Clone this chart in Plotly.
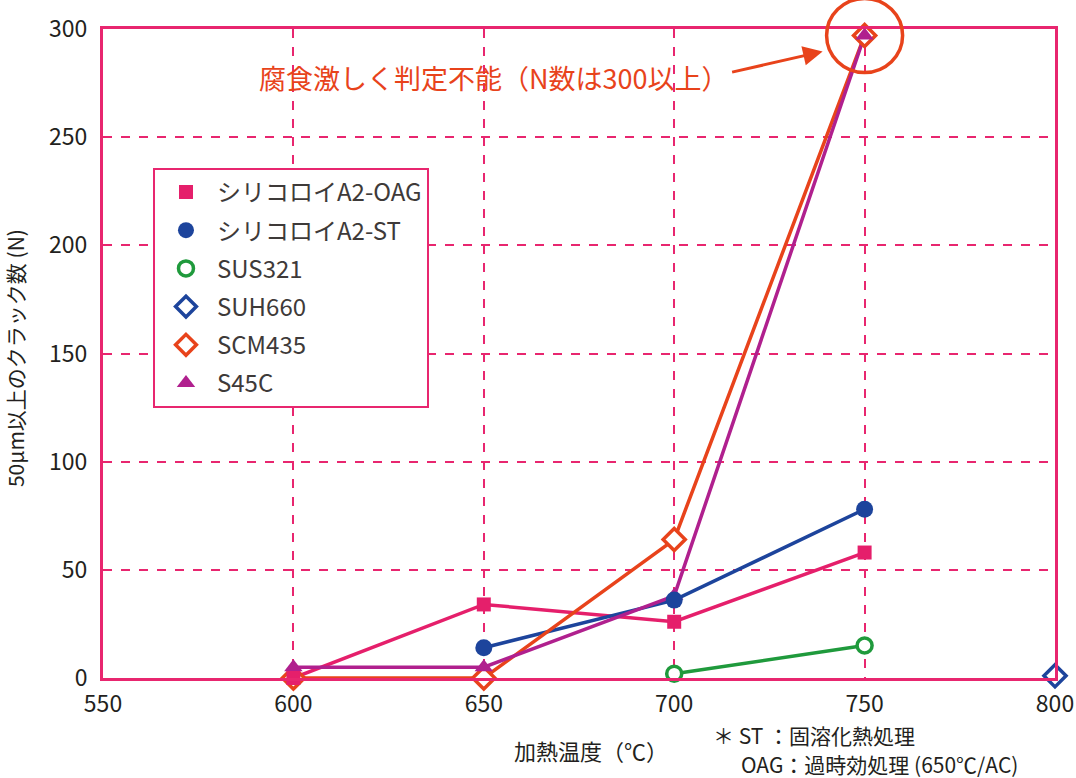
import plotly.graph_objects as go

# 加熱温度 (℃) と 50μm以上のクラック数 (N)
temp_oag = [600, 650, 700, 750]
cracks_oag = [0, 34, 26, 58]
temp_st = [650, 700, 750]
cracks_st = [14, 36, 78]
temp_sus321 = [700, 750]
cracks_sus321 = [2, 15]
temp_suh660 = [800]
cracks_suh660 = [1]
temp_scm435 = [600, 650, 700, 750]
cracks_scm435 = [0, 0, 64, 297]
temp_s45c = [600, 650, 700, 750]
cracks_s45c = [5, 5, 38, 297]

x_ticks = [550, 600, 650, 700, 750, 800]
y_ticks = [0, 50, 100, 150, 200, 250, 300]

PINK = "#e8266f"
JP = "Noto Sans CJK JP"

W, H = 1076, 778
ML, MR, MT, MB = 103, 21, 29, 100
PW, PH = W - ML - MR, H - MT - MB
XR, YR = [550, 800], [0, 300]

series = [
    # name, x, y, symbol, fill, line colour, size, marker line width
    ("シリコロイA2-OAG", temp_oag, cracks_oag, "square", "#e51f6b", "#e51f6b", 14, 0),
    ("シリコロイA2-ST", temp_st, cracks_st, "circle", "#1d449c", "#1d449c", 17, 0),
    ("SUS321", temp_sus321, cracks_sus321, "circle", "white", "#1f9a3c", 15, 3.5),
    ("SUH660", temp_suh660, cracks_suh660, "diamond", "white", "#1d449c", 17, 3.5),
    ("SCM435", temp_scm435, cracks_scm435, "diamond", "white", "#e8431b", 17, 3.5),
    ("S45C", temp_s45c, cracks_s45c, "triangle-up", "#b0208e", "#b0208e", 16, 0),
]

fig = go.Figure()

# legend entries (markers only)
for name, xs, ys, sym, fill, col, size, lw in series:
    fig.add_trace(go.Scatter(
        x=[None], y=[None], mode="markers", name=name, legendgroup=name,
        marker=dict(symbol=sym, size=size, color=fill, line=dict(color=col, width=lw)),
    ))

# lines
for name, xs, ys, sym, fill, col, size, lw in series:
    fig.add_trace(go.Scatter(
        x=xs, y=ys, mode="lines", showlegend=False, legendgroup=name,
        line=dict(color=col, width=3.5), cliponaxis=False, hoverinfo="skip",
    ))

# markers, drawn in the stacking order of the original
for idx in [4, 3, 2, 5, 1, 0]:
    name, xs, ys, sym, fill, col, size, lw = series[idx]
    fig.add_trace(go.Scatter(
        x=xs, y=ys, mode="markers", showlegend=False, legendgroup=name, name=name,
        marker=dict(symbol=sym, size=size, color=fill, line=dict(color=col, width=lw)),
        cliponaxis=False,
    ))


def to_paper(xv, yv):
    return ((xv - XR[0]) / (XR[1] - XR[0]), (yv - YR[0]) / (YR[1] - YR[0]))


def px(dx, dy):
    # pixel offsets -> paper units
    return dx / PW, dy / PH


# circle round the 750℃ points
cx, cy = to_paper(750, 297)
rx, ry = px(38, 37)
fig.add_shape(type="circle", xref="paper", yref="paper",
              x0=cx - rx, x1=cx + rx, y0=cy - ry, y1=cy + ry,
              line=dict(color="#e8431b", width=3.5))

fig.add_annotation(
    text="腐食激しく判定不能（N数は300以上）", xref="paper", yref="paper",
    x=0.41, y=0.926, xanchor="center", yanchor="middle", showarrow=False,
    font=dict(family=JP, size=27, color="#e8431b"),
)
fig.add_annotation(
    text="", xref="paper", yref="paper", x=cx - rx - 4 / PW, y=cy - 16 / PH,
    ax=-92, ay=21, showarrow=True, arrowhead=2, arrowsize=1.3, arrowwidth=3,
    arrowcolor="#e8431b", standoff=0,
)

fig.add_annotation(
    text="加熱温度（℃）", xref="paper", yref="paper", x=0.5126, y=-0.111,
    xanchor="center", yanchor="middle", showarrow=False,
    font=dict(family=JP, size=22, color="#231f20"),
)
fig.add_annotation(
    text="50μm以上のクラック数 (N)", xref="paper", yref="paper", x=-0.0924, y=0.493,
    xanchor="center", yanchor="middle", textangle=-90, borderpad=0, showarrow=False,
    font=dict(family=JP, size=21, color="#231f20"),
)
note_font = dict(family=JP, size=21, color="#231f20")
fig.add_annotation(
    text="＊ ST ：固溶化熱処理", xref="paper", yref="paper", x=0.6397, y=-0.0878,
    xanchor="left", yanchor="middle", borderpad=0, showarrow=False, font=note_font,
)
fig.add_annotation(
    text="OAG：過時効処理 (650℃/AC)", xref="paper", yref="paper", x=0.669, y=-0.1325,
    xanchor="left", yanchor="middle", borderpad=0, showarrow=False, font=note_font,
)

fig.update_xaxes(
    range=XR, tickvals=x_ticks, showgrid=True, gridcolor=PINK, gridwidth=2,
    griddash="dash", zeroline=False, showline=True, linecolor=PINK, linewidth=3,
    mirror=True, ticks="", ticklabelstandoff=3, automargin=False,
    tickfont=dict(family=JP, size=23, color="#231f20"),
)
fig.update_yaxes(
    range=YR, tickvals=y_ticks, showgrid=True, gridcolor=PINK, gridwidth=2,
    griddash="dash", zeroline=False, showline=True, linecolor=PINK, linewidth=3,
    mirror=True, ticks="inside", ticklen=9, tickwidth=2, tickcolor=PINK,
    ticklabelstandoff=8, automargin=False,
    tickfont=dict(family=JP, size=23, color="#231f20"),
)

fig.update_layout(
    width=W, height=H,
    margin=dict(l=ML, r=MR, t=MT, b=MB),
    paper_bgcolor="white", plot_bgcolor="white",
    showlegend=True,
    legend=dict(
        x=0.0525, y=0.786, xanchor="left", yanchor="top",
        bgcolor="white", bordercolor=PINK, borderwidth=2,
        font=dict(family=JP, size=24, color="#3e3a39"),
        tracegroupgap=4, traceorder="grouped", itemwidth=52,
    ),
)

# drop the browser's default body margin so the figure fills the window
fig.write_html(
    "out.html",
    config={"displayModeBar": False},
    post_script="document.body.style.margin='0';document.body.style.overflow='hidden';",
)
